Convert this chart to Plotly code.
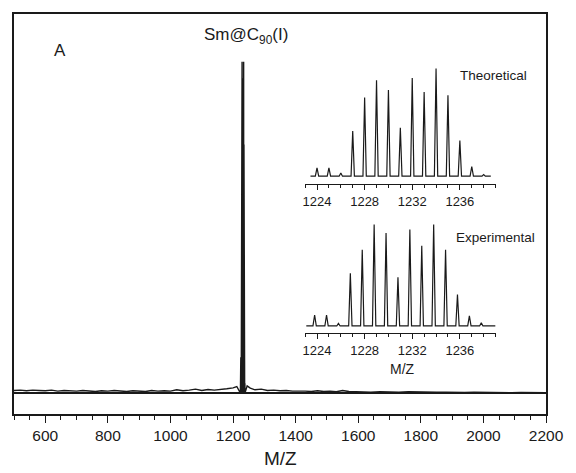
import plotly.graph_objects as go

# ---------------- data ----------------
# isotopic cluster (relative intensity, %)
theo_mz = [1224, 1225, 1226, 1227, 1228, 1229, 1230, 1231, 1232, 1233, 1234, 1235, 1236, 1237, 1238]
theo_int = [7.7, 7.7, 3.0, 42, 73, 89, 80, 45, 91, 78, 100, 75, 33, 9, 1.5]

exp_mz = [1223.8, 1224.8, 1225.8, 1226.8, 1227.8, 1228.8, 1229.8, 1230.8, 1231.8,
          1232.8, 1233.8, 1234.8, 1235.8, 1236.8, 1237.8]
exp_int = [10.8, 10.8, 2.6, 52, 75, 100, 91.5, 48, 95, 79, 100, 75, 31, 10, 3]

# background noise of the full-range spectrum
noise_lo_mz = [500, 520, 540, 560, 580, 600, 620, 640, 660, 680, 700, 720, 740, 760, 780,
               800, 820, 840, 860, 880, 900, 920, 940, 960, 980, 1000, 1020, 1040, 1060,
               1080, 1100, 1120, 1140, 1160, 1180, 1200, 1212]
noise_lo_int = [0.8, 0.9, 0.7, 0.9, 0.8, 0.7, 0.9, 0.6, 0.8, 0.7, 0.6, 0.8, 0.7, 0.5, 0.7,
                0.6, 0.8, 0.6, 0.5, 0.7, 0.6, 0.5, 0.8, 0.6, 0.7, 0.6, 1.0, 0.7, 0.9,
                1.2, 0.8, 1.1, 0.9, 1.0, 1.3, 1.6, 2.0]
noise_hi_mz = [1245, 1255, 1270, 1290, 1310, 1330, 1350, 1370, 1390, 1410, 1430, 1450, 1470,
               1490, 1510, 1530, 1550, 1570, 1590, 1610, 1640, 1670, 1700, 1730, 1760, 1790,
               1820, 1850, 1880, 1910, 1940, 1970, 2000, 2030, 2060, 2090, 2120, 2150, 2180, 2200]
noise_hi_int = [2.2, 1.5, 1.0, 1.2, 0.8, 0.9, 0.7, 0.8, 0.6, 0.7, 0.6, 0.5, 0.7, 0.5, 0.6,
                0.4, 0.8, 0.5, 0.4, 0.4, 0.3, 0.4, 0.3, 0.3, 0.4, 0.3, 0.2, 0.3, 0.3, 0.2,
                0.2, 0.3, 0.2, 0.2, 0.2, 0.1, 0.2, 0.1, 0.1, 0.1]

main_ticks = [600, 800, 1000, 1200, 1400, 1600, 1800, 2000, 2200]
inset_ticks = [1224, 1228, 1232, 1236]


def stick_profile(mz, inten, hw, start=None, end=None):
    xs, ys = [], []
    if start is not None:
        xs.append(start); ys.append(0)
    for m, h in zip(mz, inten):
        xs += [m - hw, m, m + hw]
        ys += [0, h, 0]
    if end is not None:
        xs.append(end); ys.append(0)
    return xs, ys


INK = "#1a1a1a"
FONT = "Liberation Sans, Arial, sans-serif"

fig = go.Figure()

# main spectrum
cx, cy = stick_profile(exp_mz, exp_int, 0.3)
mx = noise_lo_mz + cx + noise_hi_mz
my = noise_lo_int + cy + noise_hi_int
fig.add_trace(go.Scatter(x=mx, y=my, mode="lines", line=dict(color=INK, width=1.4),
                         xaxis="x", yaxis="y", hoverinfo="skip"))

# theoretical inset
tx, ty = stick_profile(theo_mz, theo_int, 0.14, 1223.45, 1238.6)
fig.add_trace(go.Scatter(x=tx, y=ty, mode="lines", line=dict(color=INK, width=1.2),
                         xaxis="x2", yaxis="y2", hoverinfo="skip"))

# experimental inset
ex, ey = stick_profile(exp_mz, exp_int, 0.14, 1223.1, 1239)
fig.add_trace(go.Scatter(x=ex, y=ey, mode="lines", line=dict(color=INK, width=1.2),
                         xaxis="x3", yaxis="y3", hoverinfo="skip"))

inset_x = dict(range=[1223, 1239], showline=True, linecolor=INK, linewidth=1.2,
               ticks="outside", ticklen=5, tickwidth=1.1, tickcolor=INK,
               tickvals=inset_ticks, ticktext=[str(t) for t in inset_ticks],
               tickfont=dict(family=FONT, size=13, color=INK),
               minor=dict(dtick=1, tick0=1223, ticks="outside", ticklen=3,
                          tickwidth=1, tickcolor=INK),
               showgrid=False, zeroline=False, fixedrange=True)

fig.update_layout(
    width=576, height=473,
    margin=dict(l=14, r=20, t=12, b=59),
    paper_bgcolor="white", plot_bgcolor="white",
    showlegend=False,
    xaxis=dict(range=[500, 2200], domain=[0, 1], showline=True, mirror=True,
               linecolor=INK, linewidth=1.6, ticks="outside", ticklen=7,
               tickwidth=1.3, tickcolor=INK, tickvals=main_ticks,
               ticktext=[str(t) for t in main_ticks],
               tickfont=dict(family=FONT, size=15.5, color=INK),
               minor=dict(dtick=50, tick0=500, ticks="outside", ticklen=4,
                          tickwidth=1.1, tickcolor=INK),
               showgrid=False, zeroline=False),
    yaxis=dict(range=[-6.3, 114.4], domain=[0, 1], showline=True, mirror=True,
               linecolor=INK, linewidth=1.6, showticklabels=False, ticks="",
               showgrid=False, zeroline=True, zerolinecolor=INK, zerolinewidth=1.8),
    xaxis2=dict(domain=[0.5472, 0.9052], anchor="y2", **inset_x),
    yaxis2=dict(domain=[0.5746, 0.8756], anchor="x2", range=[-7.4, 104.3], visible=False),
    xaxis3=dict(domain=[0.5472, 0.9052], anchor="y3", **inset_x),
    yaxis3=dict(domain=[0.2022, 0.4826], anchor="x3", range=[-7.06, 103.4], visible=False),
)

ann = [
    dict(text="A", x=0.0867, y=0.909, size=17),
    dict(text="Sm@C<sub>90</sub>(I)", x=0.4354, y=0.945, size=17),
    dict(text="Theoretical", x=0.9004, y=0.8458, size=13.5),
    dict(text="Experimental", x=0.905, y=0.4403, size=13.5),
    dict(text="M/Z", x=0.7297, y=0.112, size=14),
    dict(text="M/Z", x=0.5, y=-0.112, size=19),
]
for a in ann:
    fig.add_annotation(text=a["text"], x=a["x"], y=a["y"], xref="paper", yref="paper",
                       xanchor="center", yanchor="middle", showarrow=False,
                       font=dict(family=FONT, size=a["size"], color=INK))

fig.write_html("out.html", config={"displayModeBar": False},
               post_script="document.body.style.margin='0';document.body.style.padding='0';")
